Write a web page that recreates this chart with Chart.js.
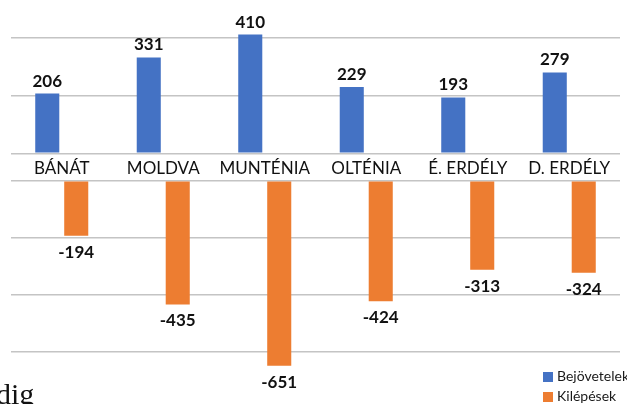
<!DOCTYPE html>
<html lang="hu">
<head>
<meta charset="UTF-8">
<title>Bejövetelek és kilépések</title>
<script src="https://cdn.jsdelivr.net/npm/chart.js@4.4.1/dist/chart.umd.min.js"></script>
<style>
  body { margin: 0; background: #fff; overflow: hidden; }
  #wrap { position: relative; width: 627px; height: 404px; overflow: hidden; }
  #legend { position: absolute; left: 543px; top: 366px; font-family: Lato, sans-serif; font-size: 14px; color: #1a1a1a; }
  #legend div { height: 20px; line-height: 20px; white-space: nowrap; }
  #legend span { display: inline-block; width: 10px; height: 10px; margin-right: 4px; vertical-align: -1px; }
  #dig { position: absolute; left: -4px; top: 379px; font-family: "Liberation Serif", serif; font-size: 30px; line-height: 30px; color: #111; }
</style>
</head>
<body>
<div id="wrap">
  <canvas id="graphCanvas" width="627" height="404"></canvas>
  <div id="legend"></div>
  <div id="dig">dig</div>
</div>
<script>
    var regiok = ["BÁNÁT", "MOLDVA", "MUNTÉNIA", "OLTÉNIA", "É. ERDÉLY", "D. ERDÉLY"];
    var bejovetelek = [206, 331, 410, 229, 193, 279];
    var kilepesek = [-194, -435, -651, -424, -313, -324];

    var kek = '#4472C4';
    var narancs = '#ED7D31';
    var racs = '#C4C4C4';

    // csak a 200-as lépésű rácsvonalak kellenek
    function csak200(scale) {
        scale.ticks = scale.ticks.filter(function (t) { return t.value % 200 === 0; });
    }

    // számok a oszlopok fölött / alatt
    var ertekCimkek = {
        id: 'ertekCimkek',
        afterDatasetsDraw: function (chart) {
            var ctx = chart.ctx;
            ctx.save();
            ctx.font = 'bold 17px Lato';
            ctx.fillStyle = '#111';
            ctx.textAlign = 'center';
            ctx.textBaseline = 'alphabetic';
            chart.data.datasets.forEach(function (ds, i) {
                chart.getDatasetMeta(i).data.forEach(function (bar, j) {
                    var v = ds.data[j];
                    ctx.fillText(String(v), bar.x, v >= 0 ? bar.y - 7 : bar.y + 22);
                });
            });
            ctx.restore();
        }
    };

    var chart = new Chart(document.getElementById('graphCanvas'), {
        type: 'bar',
        data: {
            labels: regiok,
            datasets: [{
                label: 'Bejövetelek',
                data: bejovetelek,
                backgroundColor: kek,
                yAxisID: 'yTop'
            }, {
                label: 'Kilépések',
                data: kilepesek,
                backgroundColor: narancs,
                yAxisID: 'yBot'
            }]
        },
        options: {
            responsive: false,
            animation: false,
            events: [],
            categoryPercentage: 0.571,
            barPercentage: 0.83,
            layout: { padding: { left: 11, right: 7, top: 8.5, bottom: 24.2 } },
            plugins: {
                legend: { display: false },
                tooltip: { enabled: false }
            },
            scales: {
                x: {
                    position: { yMid: 1 },
                    grid: { display: false },
                    border: { display: false },
                    ticks: {
                        font: { family: 'Lato', size: 17 },
                        color: '#111',
                        padding: -3,
                        maxRotation: 0,
                        autoSkip: false
                    }
                },
                yTop: {
                    type: 'linear', position: 'left', stack: 'v', stackWeight: 144.75, weight: 3,
                    min: 0, max: 500,
                    ticks: { display: false, stepSize: 200 },
                    afterBuildTicks: csak200,
                    grid: { color: racs, lineWidth: 1.5, drawTicks: false },
                    border: { display: false }
                },
                yMid: {
                    type: 'linear', position: 'left', stack: 'v', stackWeight: 27.4, weight: 2,
                    min: 0, max: 1,
                    ticks: { display: false },
                    grid: { display: false, drawTicks: false },
                    border: { display: false }
                },
                yBot: {
                    type: 'linear', position: 'left', stack: 'v', stackWeight: 199.15, weight: 1,
                    min: -700, max: 0,
                    ticks: { display: false, stepSize: 200 },
                    afterBuildTicks: csak200,
                    grid: { color: racs, lineWidth: 1.5, drawTicks: false },
                    border: { display: false }
                }
            }
        },
        plugins: [ertekCimkek]
    });

    document.getElementById('legend').innerHTML = chart.data.datasets.map(function (ds) {
        return '<div><span style="background:' + ds.backgroundColor + '"></span>' + ds.label + '</div>';
    }).join('');
</script>
</body>
</html>
